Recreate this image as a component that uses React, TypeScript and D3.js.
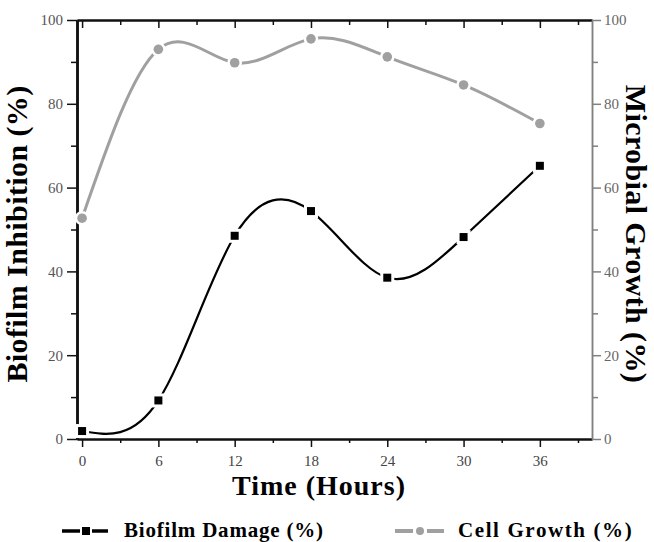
import React, { useEffect, useRef } from "react";
import * as d3 from "d3";

// hours sampled
const hours = [0, 6, 12, 18, 24, 30, 36];
// Biofilm Damage (%) - left axis
const biofilmDamage = [1.9, 9.2, 48.5, 54.4, 38.5, 48.2, 65.2];
// Cell Growth (%) - right axis
const cellGrowth = [52.7, 93.0, 89.8, 95.5, 91.2, 84.5, 75.3];

const xMajorTicks = [0, 6, 12, 18, 24, 30, 36];
const xMinorTicks = [3, 9, 15, 21, 27, 33, 39];
const yMajorTicks = [0, 20, 40, 60, 80, 100];
const yMinorTicks = [10, 30, 50, 70, 90];

const seriesNames = ["Biofilm Damage (%)", "Cell Growth (%)"];

const FONT = "'Liberation Serif', 'Times New Roman', serif";
const GRAY = "#a0a0a0";

function App() {
    const ref = useRef<SVGSVGElement | null>(null);

    useEffect(() => {
        drawChart();
    }, []);

    const drawChart = () => {
        const width = 654;
        const height = 542;
        const left = 77, right = 592, top = 20, bottom = 439;

        const svg = d3.select(ref.current);
        svg.selectAll("*").remove();

        svg.append("rect").attr("width", width).attr("height", height).attr("fill", "white");

        const x = d3.scaleLinear().domain([-0.4, 40.1]).range([left, right]);
        const y = d3.scaleLinear().domain([0, 100]).range([bottom, top]);

        const styleAxis = (g: any, color: string, labelColor: string, strokeW: number) => {
            g.select(".domain").attr("stroke", color).attr("stroke-width", strokeW);
            g.selectAll(".tick line").attr("stroke", color).attr("stroke-width", 1.5);
            g.selectAll(".tick text")
                .attr("fill", labelColor)
                .attr("font-family", FONT)
                .attr("font-size", 15);
        };

        // bottom axis
        const gb = svg.append("g").attr("transform", `translate(0,${bottom})`)
            .call(d3.axisBottom(x).tickValues(xMajorTicks).tickSize(8).tickSizeOuter(0).tickPadding(8).tickFormat(d3.format("d")));
        styleAxis(gb, "#111", "#444", 2);
        const gbm = svg.append("g").attr("transform", `translate(0,${bottom})`)
            .call(d3.axisBottom(x).tickValues(xMinorTicks).tickSize(4).tickSizeOuter(0).tickFormat(() => ""));
        styleAxis(gbm, "#111", "#444", 2);

        // top axis (ticks pointing inside)
        const gt = svg.append("g").attr("transform", `translate(0,${top})`)
            .call(d3.axisBottom(x).tickValues(xMajorTicks).tickSize(8).tickSizeOuter(0).tickFormat(() => ""));
        styleAxis(gt, "#111", "#444", 2);
        const gtm = svg.append("g").attr("transform", `translate(0,${top})`)
            .call(d3.axisBottom(x).tickValues(xMinorTicks).tickSize(5).tickSizeOuter(0).tickFormat(() => ""));
        styleAxis(gtm, "#111", "#444", 2);

        // right axis (gray)
        const gr = svg.append("g").attr("transform", `translate(${right},0)`)
            .call(d3.axisRight(y).tickValues(yMajorTicks).tickSize(9).tickSizeOuter(0).tickPadding(3).tickFormat(d3.format("d")));
        styleAxis(gr, "#808080", "#666", 1.5);
        const grm = svg.append("g").attr("transform", `translate(${right},0)`)
            .call(d3.axisRight(y).tickValues(yMinorTicks).tickSize(6).tickSizeOuter(0).tickFormat(() => ""));
        styleAxis(grm, "#808080", "#666", 1.5);

        // left axis
        const gl = svg.append("g").attr("transform", `translate(${left},0)`)
            .call(d3.axisLeft(y).tickValues(yMajorTicks).tickSize(10).tickSizeOuter(0).tickPadding(4).tickFormat(d3.format("d")));
        styleAxis(gl, "#111", "#555", 2.5);
        const glm = svg.append("g").attr("transform", `translate(${left},0)`)
            .call(d3.axisLeft(y).tickValues(yMinorTicks).tickSize(6).tickSizeOuter(0).tickFormat(() => ""));
        styleAxis(glm, "#111", "#555", 2.5);

        // curves
        const line = d3.line<number>()
            .x((_, i) => x(hours[i]))
            .y(d => y(d))
            .curve(d3.curveNatural);

        svg.append("path")
            .datum(cellGrowth)
            .attr("fill", "none")
            .attr("stroke", GRAY)
            .attr("stroke-width", 3)
            .attr("d", line);

        svg.append("path")
            .datum(biofilmDamage)
            .attr("fill", "none")
            .attr("stroke", "#000")
            .attr("stroke-width", 2.2)
            .attr("d", line);

        // markers with white halo (gap in line)
        svg.append("g").selectAll("circle")
            .data(cellGrowth)
            .join("circle")
            .attr("cx", (_, i) => x(hours[i]))
            .attr("cy", d => y(d))
            .attr("r", 4.8)
            .attr("fill", GRAY)
            .attr("stroke", "white")
            .attr("stroke-width", 5)
            .attr("paint-order", "stroke");

        svg.append("g").selectAll("rect")
            .data(biofilmDamage)
            .join("rect")
            .attr("x", (_, i) => x(hours[i]) - 4)
            .attr("y", d => y(d) - 4)
            .attr("width", 8)
            .attr("height", 8)
            .attr("fill", "#000")
            .attr("stroke", "white")
            .attr("stroke-width", 6)
            .attr("paint-order", "stroke");

        // axis titles
        svg.append("text")
            .attr("x", 319)
            .attr("y", 495)
            .attr("text-anchor", "middle")
            .attr("font-family", FONT)
            .attr("font-weight", "bold")
            .attr("font-size", 28)
            .attr("letter-spacing", 1)
            .text("Time (Hours)");

        svg.append("text")
            .attr("transform", `translate(27,234) rotate(-90)`)
            .attr("text-anchor", "middle")
            .attr("font-family", FONT)
            .attr("font-weight", "bold")
            .attr("font-size", 30)
            .attr("letter-spacing", 0.4)
            .text("Biofilm Inhibition (%)");

        svg.append("text")
            .attr("transform", `translate(626,234) rotate(90)`)
            .attr("text-anchor", "middle")
            .attr("font-family", FONT)
            .attr("font-weight", "bold")
            .attr("font-size", 30)
            .attr("letter-spacing", 0.4)
            .text("Microbial Growth (%)");

        // legend
        const legendY = 531;
        const lg = svg.append("g");
        // biofilm damage
        lg.append("line").attr("x1", 62).attr("x2", 80).attr("y1", legendY).attr("y2", legendY)
            .attr("stroke", "#000").attr("stroke-width", 3.5);
        lg.append("line").attr("x1", 92).attr("x2", 108).attr("y1", legendY).attr("y2", legendY)
            .attr("stroke", "#000").attr("stroke-width", 3.5);
        lg.append("rect").attr("x", 82).attr("y", legendY - 4).attr("width", 8).attr("height", 8).attr("fill", "#000");
        lg.append("text").attr("x", 124).attr("y", 537)
            .attr("font-family", FONT).attr("font-weight", "bold").attr("font-size", 21)
            .attr("letter-spacing", 0.8)
            .text(seriesNames[0]);
        // cell growth
        lg.append("line").attr("x1", 395).attr("x2", 413).attr("y1", legendY).attr("y2", legendY)
            .attr("stroke", GRAY).attr("stroke-width", 4);
        lg.append("line").attr("x1", 427).attr("x2", 444).attr("y1", legendY).attr("y2", legendY)
            .attr("stroke", GRAY).attr("stroke-width", 4);
        lg.append("circle").attr("cx", 420).attr("cy", legendY).attr("r", 4).attr("fill", GRAY);
        lg.append("text").attr("x", 458).attr("y", 537)
            .attr("font-family", FONT).attr("font-weight", "bold").attr("font-size", 21)
            .attr("letter-spacing", 1.6)
            .text(seriesNames[1]);
    };

    return (
        <svg ref={ref} width={654} height={542} style={{ position: "absolute", left: 0, top: 0, display: "block" }}></svg>
    );
}

export default App;
